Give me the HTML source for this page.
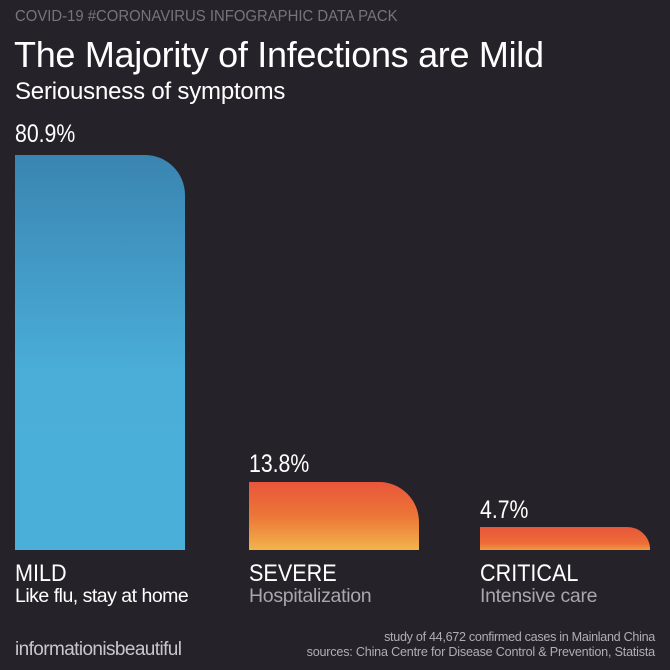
<!DOCTYPE html>
<html><head><style>
body{margin:0;background:#252329;}
#c{position:relative;width:670px;height:670px;background:#252329;overflow:hidden;font-family:"Liberation Sans",sans-serif;color:#fff;}
.t{position:absolute;white-space:nowrap;line-height:1;}
.bar{position:absolute;}
</style></head><body><div id="c">
<div class="t" style="left:15px;top:9px;font-size:16px;color:#77757b;transform:scaleX(0.93);transform-origin:left;">COVID-19 #CORONAVIRUS INFOGRAPHIC DATA PACK</div>
<div class="t" style="left:14px;top:37px;font-size:36px;letter-spacing:-0.3px;">The Majority of Infections are Mild</div>
<div class="t" style="left:15px;top:80px;font-size:24px;letter-spacing:-0.2px;">Seriousness of symptoms</div>
<div class="t" style="left:15px;top:122px;font-size:25px;transform:scaleX(0.85);transform-origin:left;">80.9%</div>
<div class="bar" style="left:15px;top:155px;width:170px;height:395px;border-top-right-radius:40px;background:linear-gradient(#3a84b1,#4aaed8 55%,#4ab0da);"></div>
<div class="t" style="left:249px;top:452px;font-size:25px;transform:scaleX(0.85);transform-origin:left;">13.8%</div>
<div class="bar" style="left:249px;top:482px;width:170px;height:68px;border-top-right-radius:40px;background:linear-gradient(#e9563a,#ec7638 50%,#f2b44c);"></div>
<div class="t" style="left:480px;top:498px;font-size:25px;transform:scaleX(0.85);transform-origin:left;">4.7%</div>
<div class="bar" style="left:480px;top:527px;width:170px;height:23px;border-top-right-radius:23px 22px;background:linear-gradient(#e9563a,#ec6c38 70%,#f09a44);"></div>
<div class="t" style="left:15px;top:562px;font-size:24px;transform:scaleX(0.9);transform-origin:left;">MILD</div>
<div class="t" style="left:15px;top:587px;font-size:19.5px;letter-spacing:-0.5px;">Like flu, stay at home</div>
<div class="t" style="left:249px;top:562px;font-size:24px;transform:scaleX(0.9);transform-origin:left;">SEVERE</div>
<div class="t" style="left:249px;top:587px;font-size:19.5px;color:#a9a7ad;letter-spacing:-0.3px;">Hospitalization</div>
<div class="t" style="left:480px;top:562px;font-size:24px;transform:scaleX(0.9);transform-origin:left;">CRITICAL</div>
<div class="t" style="left:480px;top:587px;font-size:19.5px;color:#a9a7ad;letter-spacing:-0.3px;">Intensive care</div>
<div class="t" style="left:15px;top:640px;font-size:19px;color:#c9c7cd;letter-spacing:-0.6px;">informationisbeautiful</div>
<div class="t" style="right:15px;top:631px;font-size:12.6px;color:#b0aeb4;letter-spacing:-0.3px;text-align:right;">study of 44,672 confirmed cases in Mainland China</div>
<div class="t" style="right:15px;top:646px;font-size:12.6px;color:#b0aeb4;letter-spacing:-0.2px;text-align:right;">sources: China Centre for Disease Control &amp; Prevention, Statista</div>
</div></body></html>
